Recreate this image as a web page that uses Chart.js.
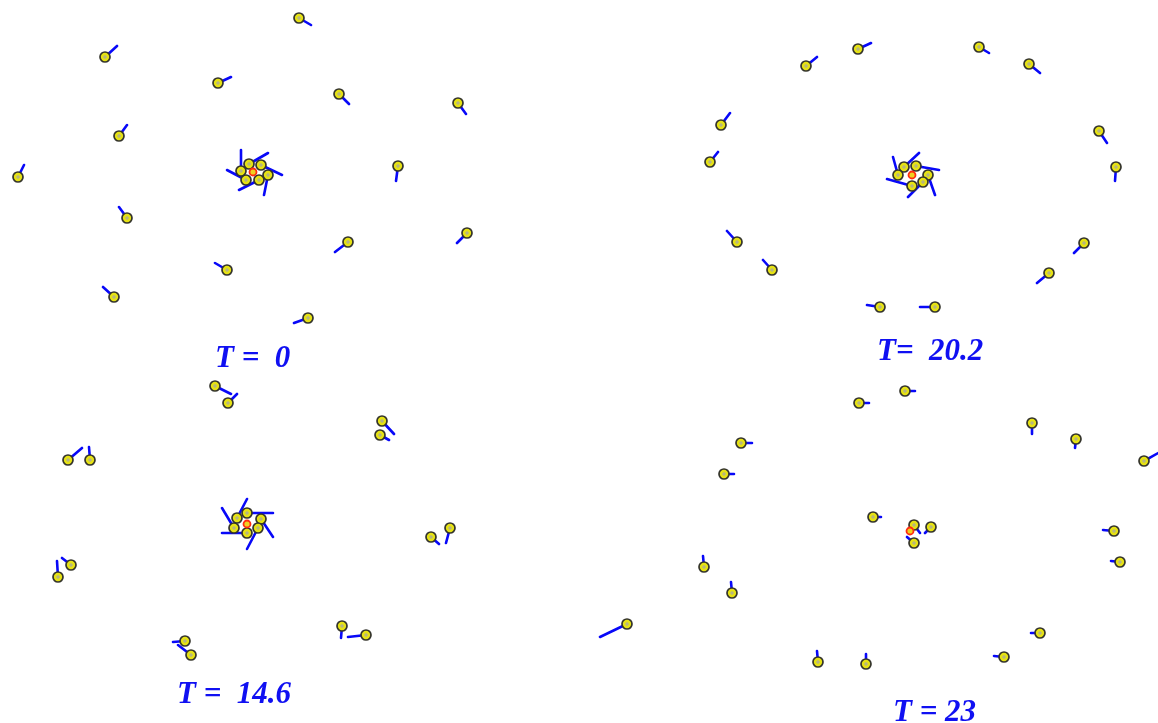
<!DOCTYPE html>
<html>
<head>
<meta charset="utf-8">
<script src="https://cdn.jsdelivr.net/npm/chart.js@4/dist/chart.umd.min.js"></script>
<style>
  html, body { margin: 0; padding: 0; background: #ffffff; }
  canvas { display: block; }
</style>
</head>
<body>
<canvas id="c" width="1158" height="723"></canvas>
<script>
// Particle snapshots: positions (x, y) and velocity components (u, v), screen units, y downward.
// T = 0
const t0X = [105, 218, 119, 18, 299, 339, 458, 398, 127, 227, 114, 348, 467, 308, 249, 261, 268, 259, 246, 241];
const t0Y = [57, 83, 136, 177, 18, 94, 103, 166, 218, 270, 297, 242, 233, 318, 164, 165, 175, 180, 180, 171];
const t0U = [12, 13, 8, 6, 12, 10, 8, -2, -8, -12, -11, -13, -10, -14, 19, 21, -4, -20, -19, 0];
const t0V = [-11, -6, -11, -12, 7, 10, 11, 15, -11, -7, -10, 10, 10, 5, -11, 10, 20, 10, -10, -21];
const t0Centre = [253, 172];

// T = 14.6
const t1X = [215, 228, 382, 380, 68, 90, 431, 450, 71, 58, 185, 191, 342, 366, 237, 234, 247, 261, 258, 247];
const t1Y = [386, 403, 421, 435, 460, 460, 537, 528, 565, 577, 641, 655, 626, 635, 518, 528, 513, 519, 528, 533];
const t1U = [16, 9, 12, 9, 14, -1, 8, -4, -9, -1, -12, -13, -1, -18, 10, -12, 26, 12, -11, -25];
const t1V = [8, -9, 13, 5, -12, -13, 7, 15, -7, -16, 1, -10, 12, 2, -19, -20, 0, 18, 21, 0];
const t1Centre = [247, 524];

// T = 20.2
const t2X = [806, 858, 721, 710, 979, 1029, 1099, 1116, 737, 772, 880, 935, 1084, 1049, 904, 916, 928, 923, 912, 898];
const t2Y = [66, 49, 125, 162, 47, 64, 131, 167, 242, 270, 307, 307, 243, 273, 167, 166, 175, 182, 186, 175];
const t2U = [11, 13, 9, 8, 10, 11, 8, -1, -10, -9, -13, -15, -10, -12, 15, 23, 7, -15, -25, -5];
const t2V = [-9, -6, -12, -10, 6, 9, 12, 14, -11, -10, -2, 0, 10, 10, -14, 4, 20, 15, -7, -18];
const t2Centre = [912, 175];

// T = 23
const t3X = [905, 859, 1032, 1076, 1144, 741, 724, 873, 914, 931, 914, 1114, 1120, 704, 732, 627, 818, 866, 1040, 1004];
const t3Y = [391, 403, 423, 439, 461, 443, 474, 517, 525, 527, 543, 531, 562, 567, 593, 624, 662, 664, 633, 657];
const t3U = [10, 10, 0, -1, 16, 11, 10, 8, 6, -6, -7, -11, -9, -1, -1, -27, -1, 0, -9, -10];
const t3V = [0, 0, 11, 9, -9, 0, 0, 0, 8, 6, -6, -1, -1, -11, -11, 13, -11, -10, 0, -1];
const t3Centre = [910, 531];

// Panel captions and where they sit
const captionText = ['T =  0', 'T =  14.6', 'T=  20.2', 'T = 23'];
const captionX = [215, 177, 877, 893];
const captionY = [367, 703, 360, 721];

const snapshots = [
  { x: t0X, y: t0Y, u: t0U, v: t0V, c: t0Centre },
  { x: t1X, y: t1Y, u: t1U, v: t1V, c: t1Centre },
  { x: t2X, y: t2Y, u: t2U, v: t2V, c: t2Centre },
  { x: t3X, y: t3Y, u: t3U, v: t3V, c: t3Centre }
];

const vectorPts = [];
const bodyPts = [];
const centrePts = [];
snapshots.forEach(s => {
  s.x.forEach((x, i) => {
    const y = s.y[i];
    vectorPts.push({ x: x, y: y });
    vectorPts.push({ x: x + s.u[i], y: y + s.v[i] });
    vectorPts.push({ x: null, y: null });
    bodyPts.push({ x: x, y: y });
  });
  centrePts.push({ x: s.c[0], y: s.c[1] });
});

const captionPlugin = {
  id: 'captions',
  afterDatasetsDraw(chart) {
    const ctx = chart.ctx;
    const xs = chart.scales.x, ys = chart.scales.y;
    ctx.save();
    ctx.font = 'italic bold 31px "Liberation Serif", "DejaVu Serif", serif';
    ctx.fillStyle = '#1010f2';
    ctx.textBaseline = 'alphabetic';
    ctx.textAlign = 'left';
    captionText.forEach((t, i) => {
      ctx.fillText(t, xs.getPixelForValue(captionX[i]), ys.getPixelForValue(captionY[i]));
    });
    ctx.restore();
  }
};

new Chart(document.getElementById('c'), {
  type: 'scatter',
  data: {
    datasets: [
      {
        label: 'velocity',
        data: vectorPts,
        showLine: true,
        spanGaps: false,
        borderColor: '#0808f8',
        borderWidth: 2.6,
        borderCapStyle: 'round',
        pointRadius: 0,
        pointHoverRadius: 0,
        order: 4,
        clip: false
      },
      {
        label: 'particles',
        data: bodyPts,
        pointRadius: 5,
        pointHoverRadius: 5,
        pointBackgroundColor: '#e6e214',
        pointBorderColor: '#34342c',
        pointBorderWidth: 1.7,
        order: 3,
        clip: false
      },
      {
        label: 'markers',
        data: bodyPts,
        pointStyle: 'cross',
        pointRadius: 2,
        pointHoverRadius: 2,
        pointBorderColor: '#a8a8a0',
        pointBorderWidth: 1,
        order: 2,
        clip: false
      },
      {
        label: 'centre',
        data: centrePts,
        pointRadius: 3.5,
        pointHoverRadius: 3.5,
        pointBackgroundColor: '#f0d020',
        pointBorderColor: '#ff2a10',
        pointBorderWidth: 1.8,
        order: 1,
        clip: false
      }
    ]
  },
  options: {
    responsive: false,
    devicePixelRatio: 1,
    animation: false,
    events: [],
    layout: { padding: 0, autoPadding: false },
    plugins: { legend: { display: false }, tooltip: { enabled: false } },
    scales: {
      x: { type: 'linear', min: 0, max: 1158, display: false },
      y: { type: 'linear', min: 0, max: 723, reverse: true, display: false }
    }
  },
  plugins: [captionPlugin]
});
</script>
</body>
</html>
